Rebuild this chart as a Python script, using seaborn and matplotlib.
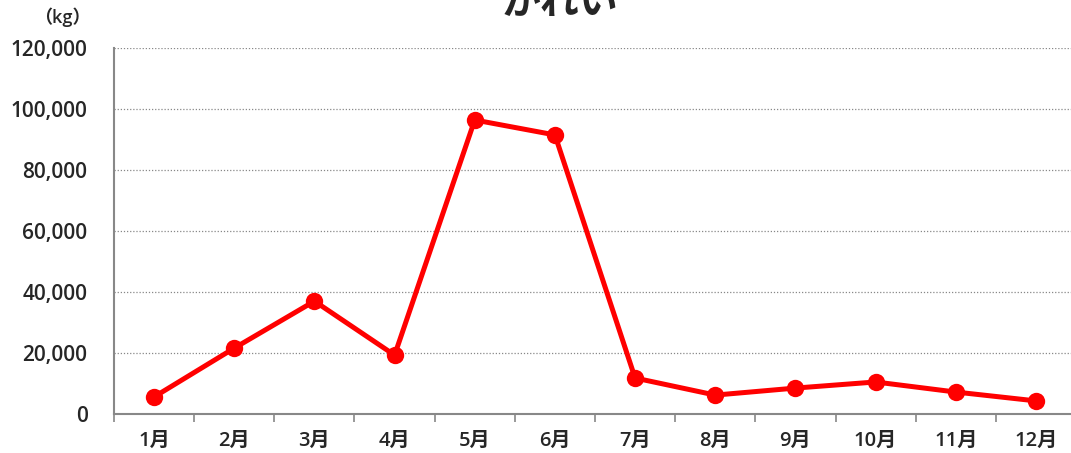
import numpy as np
import pandas as pd
import seaborn as sns
import matplotlib.pyplot as plt
from matplotlib.ticker import FuncFormatter, FixedLocator

# data
months = ['1月', '2月', '3月', '4月', '5月', '6月', '7月', '8月', '9月', '10月', '11月', '12月']
catch_kg = [5600, 21600, 37000, 19300, 96400, 91500, 11800, 6200, 8500, 10500, 7200, 4300]
title = 'かれい'
unit = '（kg）'

df = pd.DataFrame({'month': months, 'kg': catch_kg})

sns.set_style('white')
plt.rcParams['font.family'] = ['Open Sans', 'Noto Sans CJK JP', 'DejaVu Sans']

fig = plt.figure(figsize=(10.71, 4.53), dpi=100)
ax = fig.add_axes([114 / 1071, 1 - 414 / 453, 962 / 1071, 366 / 453])

sns.lineplot(data=df, x='month', y='kg', ax=ax, color='#ff0000', linewidth=3.6,
             marker='o', markersize=12.5, markeredgewidth=0, sort=False)

ax.set_xlim(-0.5, 11.5)
ax.set_ylim(0, 120000)
ax.set_yticks(np.arange(0, 120001, 20000))
ax.yaxis.set_major_formatter(FuncFormatter(lambda v, p: f'{int(v):,}'))
ax.yaxis.grid(True, linestyle=(0, (1, 1.5)), color='#888888', linewidth=0.9)
ax.set_axisbelow(True)

ax.set_xticks(range(len(months)))
ax.set_xticklabels(months)
ax.xaxis.set_minor_locator(FixedLocator(np.arange(-0.5, 12, 1)))
ax.tick_params(axis='x', which='major', length=0, pad=12, labelsize=14.5)
ax.tick_params(axis='x', which='minor', length=6, width=1.2, color='#888888', direction='out')
ax.tick_params(axis='y', length=0, pad=19, labelsize=15)
ax.xaxis.set_ticks_position('bottom')
for lbl in ax.get_xticklabels() + ax.get_yticklabels():
    lbl.set_fontweight('semibold')

for s in ['top', 'right']:
    ax.spines[s].set_visible(False)
for s in ['left', 'bottom']:
    ax.spines[s].set_color('#888888')
    ax.spines[s].set_linewidth(1.5)

ax.set_xlabel('')
ax.set_ylabel('')

fig.text(62 / 1071, 1 - 17 / 453, unit, fontsize=13, fontweight='semibold', ha='center', va='center')
fig.text(560 / 1071, 1 - 3 / 453, title, fontsize=28, fontweight='bold', ha='center', va='center')

fig.savefig('out.png', dpi=100)
